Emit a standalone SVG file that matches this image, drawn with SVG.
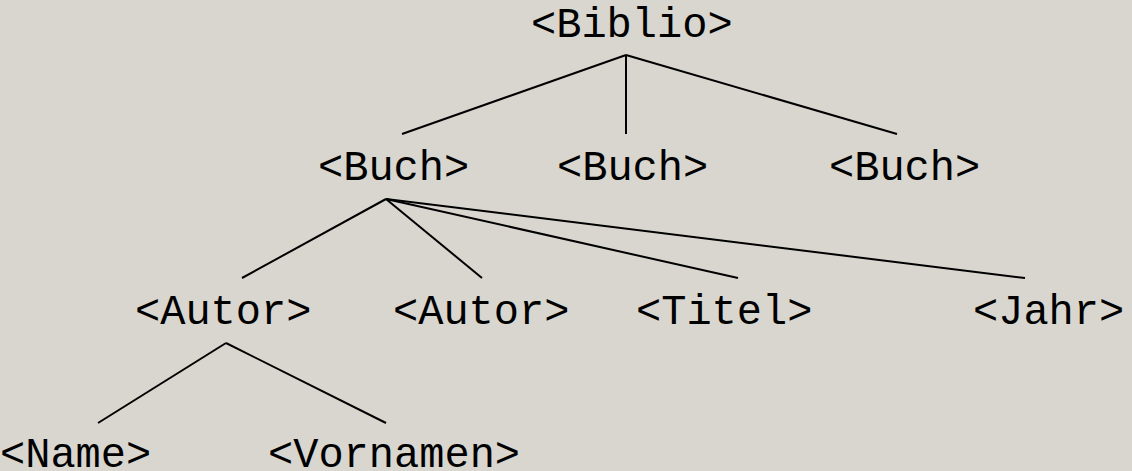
<svg xmlns="http://www.w3.org/2000/svg" width="1132" height="471" viewBox="0 0 1132 471">
<style>
.t{font-family:"Liberation Mono","Courier New",monospace;font-size:42px;fill:#000}
.c line{stroke:#000;stroke-width:2;stroke-linecap:butt}
</style>
<rect width="1132" height="471" fill="#d8d6cf"/>
<g class="c" id="connectors">
<line x1="626" y1="55" x2="402" y2="134"/>
<line x1="626" y1="55" x2="626" y2="134"/>
<line x1="626" y1="55" x2="897" y2="134"/>
<line x1="386" y1="199" x2="242" y2="278"/>
<line x1="386" y1="199" x2="482" y2="278"/>
<line x1="386" y1="199" x2="738" y2="278"/>
<line x1="386" y1="199" x2="1025" y2="278"/>
<line x1="226" y1="343" x2="98" y2="423"/>
<line x1="226" y1="343" x2="386" y2="423"/>
</g>
<g id="biblio"><text class="t" x="531" y="37">&lt;Biblio&gt;</text></g>
<g id="buch1"><text class="t" x="318" y="180">&lt;Buch&gt;</text></g>
<g id="buch2"><text class="t" x="557" y="180">&lt;Buch&gt;</text></g>
<g id="buch3"><text class="t" x="829" y="180">&lt;Buch&gt;</text></g>
<g id="autor1"><text class="t" x="135" y="324">&lt;Autor&gt;</text></g>
<g id="autor2"><text class="t" x="393" y="324">&lt;Autor&gt;</text></g>
<g id="titel"><text class="t" x="636" y="324">&lt;Titel&gt;</text></g>
<g id="jahr"><text class="t" x="973" y="324">&lt;Jahr&gt;</text></g>
<g id="name"><text class="t" x="0" y="467">&lt;Name&gt;</text></g>
<g id="vornamen"><text class="t" x="268" y="467">&lt;Vornamen&gt;</text></g>
</svg>
